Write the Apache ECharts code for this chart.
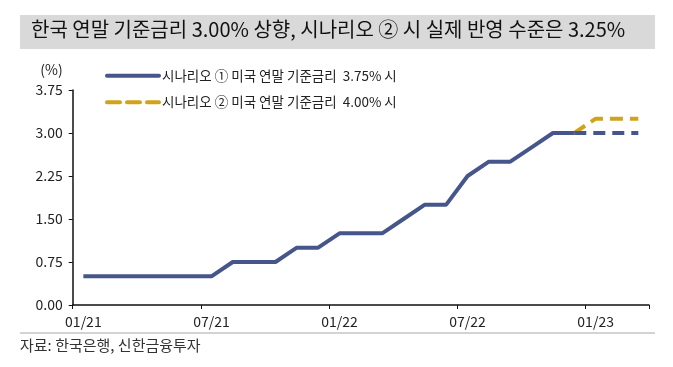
<!DOCTYPE html>
<html><head><meta charset="utf-8">
<script src="https://cdn.jsdelivr.net/npm/echarts@6/dist/echarts.min.js"></script>
<style>html,body{margin:0;padding:0;background:#fff}#c{width:673px;height:367px}</style>
</head><body><div id="c"></div>
<script>
const months = ['01/21','02/21','03/21','04/21','05/21','06/21','07/21','08/21','09/21','10/21','11/21','12/21',
  '01/22','02/22','03/22','04/22','05/22','06/22','07/22','08/22','09/22','10/22','11/22','12/22',
  '01/23','02/23','03/23'];
const actual = [0.5,0.5,0.5,0.5,0.5,0.5,0.5,0.75,0.75,0.75,1.0,1.0,
  1.25,1.25,1.25,1.5,1.75,1.75,2.25,2.5,2.5,2.75,3.0,3.0,null,null,null];
const scenario1 = [null,null,null,null,null,null,null,null,null,null,null,null,
  null,null,null,null,null,null,null,null,null,null,null,3.0,3.0,3.0,3.0];
const scenario2 = [null,null,null,null,null,null,null,null,null,null,null,null,
  null,null,null,null,null,null,null,null,null,null,null,3.0,3.25,3.25,3.25];
const yTicks = [0, 0.75, 1.5, 2.25, 3.0, 3.75];
const titleText = '한국 연말 기준금리 3.00% 상향, 시나리오 ② 시 실제 반영 수준은 3.25%';
const sourceText = '자료: 한국은행, 신한금융투자';
const name1 = '시나리오 ① 미국 연말 기준금리  3.75% 시';
const name2 = '시나리오 ② 미국 연말 기준금리  4.00% 시';

const NAVY = '#46558a', GOLD = '#d1a21b';
const FONT = '"Noto Sans CJK KR","Noto Sans",sans-serif';
const chart = echarts.init(document.getElementById('c'));
chart.setOption({
  animation: false,
  textStyle: {fontFamily: FONT},
  graphic: [
    {type:'rect', shape:{x:20,y:15,width:635,height:34}, style:{fill:'#d9d9d9'}, z:-1},
    {type:'line', shape:{x1:20,y1:333,x2:655,y2:333}, style:{stroke:'#a6a6a6',lineWidth:1}}
  ],
  title: [
    {text:titleText, left:31, top:19, padding:0,
     textStyle:{fontFamily:FONT,fontSize:20,fontWeight:'normal',color:'#111'}},
    {text:sourceText, left:20, top:338, padding:0,
     textStyle:{fontFamily:FONT,fontSize:15,fontWeight:'normal',color:'#333'}}
  ],
  legend: {
    orient:'vertical', left:100, top:64, itemWidth:52, itemHeight:14, itemGap:13,
    data:[name1, name2],
    lineStyle:{width:4, cap:'round'},
    itemStyle:{opacity:0},
    textStyle:{fontFamily:FONT,fontSize:13.5,color:'#222', padding:[0,0,0,-2]}
  },
  grid: {left:72.7, right:24, top:90, bottom:62},
  xAxis: {
    type:'category', data:months, boundaryGap:true,
    axisLine:{lineStyle:{color:'#111',width:1.5}},
    axisTick:{show:true, length:4, lineStyle:{color:'#111'}, interval:(i)=>i%6===0},
    axisLabel:{interval:(i)=>i%6===0, color:'#222', fontSize:14, margin:10, fontFamily:FONT}
  },
  yAxis: {
    type:'value', min:0, max:3.75, interval:0.75,
    name:'(%)', nameLocation:'end', nameGap:20,
    nameTextStyle:{align:'right', verticalAlign:'middle', padding:[0,10,0,0], color:'#222', fontSize:14, fontFamily:FONT},
    axisLine:{show:true, lineStyle:{color:'#111',width:1.5}},
    axisTick:{show:true, length:4, lineStyle:{color:'#111'}},
    splitLine:{show:false},
    axisLabel:{color:'#222', fontSize:14, margin:10, fontFamily:FONT,
      formatter:(v)=>v.toFixed(2)}
  },
  series: [
    {name:name2, type:'line', data:scenario2, symbol:'none', z:1,
     lineStyle:{color:GOLD,width:4,type:[13,7]}, itemStyle:{color:GOLD}},
    {name:'scenario1', type:'line', data:scenario1, symbol:'none', z:2,
     lineStyle:{color:NAVY,width:4,type:[12,7]}, itemStyle:{color:NAVY}},
    {name:name1, type:'line', data:actual, symbol:'none', z:3,
     lineStyle:{color:NAVY,width:4}, itemStyle:{color:NAVY}}
  ]
});
</script></body></html>
